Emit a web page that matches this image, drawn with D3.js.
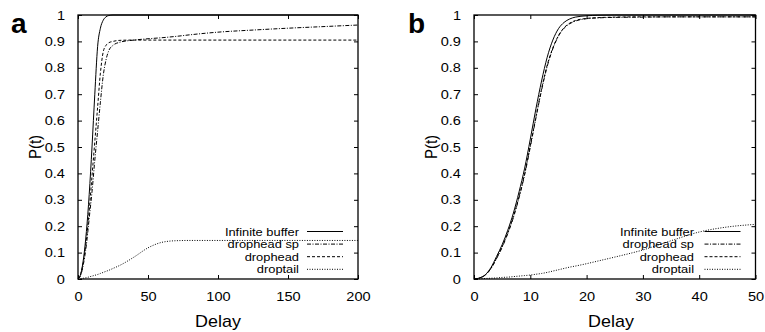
<!DOCTYPE html>
<html>
<head>
<meta charset="utf-8">
<script src="https://cdn.jsdelivr.net/npm/d3@7"></script>
<style>
body { margin: 0; background: #fff; }
text { font-family: "Liberation Sans", Arial, Helvetica, sans-serif; fill: #000; }
.tick text { font-size: 13px; }
.st { transform-box: fill-box; transform: scaleX(1.12); }
.st-c { transform-origin: center; }
.st-r { transform-origin: right center; }
</style>
</head>
<body>
<div id="chart-area"></div>
<script>
// ---- data ----
let seriesNames = ["Infinite buffer", "drophead sp", "drophead", "droptail"];
let yTicks = [0, 0.1, 0.2, 0.3, 0.4, 0.5, 0.6, 0.7, 0.8, 0.9, 1];

// panel a
let aTicks = [0, 50, 100, 150, 200];
let aDelay = [0, 2, 4, 6, 8, 10, 12, 14, 16, 18, 20, 22, 25, 30, 40, 50, 60, 70, 80, 100, 125, 150, 175, 200];
let aInfinite = [0, 0.02, 0.08, 0.18, 0.32, 0.5, 0.7, 0.88, 0.95, 0.98, 0.993, 0.998, 1, 1, 1, 1, 1, 1, 1, 1, 1, 1, 1, 1];
let aDropheadSp = [0, 0.015, 0.06, 0.13, 0.23, 0.33, 0.45, 0.56, 0.67, 0.77, 0.83, 0.865, 0.885, 0.897, 0.905, 0.91, 0.914, 0.919, 0.925, 0.935, 0.943, 0.95, 0.956, 0.962];
let aDrophead = [0, 0.02, 0.07, 0.15, 0.26, 0.39, 0.52, 0.65, 0.78, 0.86, 0.885, 0.895, 0.9, 0.904, 0.905, 0.905, 0.905, 0.905, 0.905, 0.905, 0.905, 0.905, 0.905, 0.905];
let aDroptail = [0, 0.001, 0.003, 0.005, 0.008, 0.011, 0.014, 0.017, 0.021, 0.025, 0.029, 0.033, 0.04, 0.052, 0.083, 0.118, 0.139, 0.145, 0.146, 0.146, 0.146, 0.146, 0.146, 0.146];

// panel b
let bTicks = [0, 10, 20, 30, 40, 50];
let bDelay = [0, 1, 2, 3, 4, 5, 6, 7, 8, 9, 10, 11, 12, 13, 14, 15, 16, 17, 18, 20, 22, 25, 30, 35, 40, 45, 50];
let bInfinite = [0, 0.004, 0.016, 0.043, 0.085, 0.13, 0.185, 0.25, 0.33, 0.42, 0.53, 0.645, 0.75, 0.84, 0.905, 0.948, 0.972, 0.985, 0.992, 0.997, 0.999, 1, 1, 1, 1, 1, 1];
let bDropheadSp = [0, 0.004, 0.015, 0.039, 0.077, 0.12, 0.172, 0.233, 0.308, 0.395, 0.5, 0.61, 0.715, 0.805, 0.872, 0.92, 0.95, 0.967, 0.977, 0.986, 0.989, 0.991, 0.992, 0.993, 0.993, 0.993, 0.993];
let bDrophead = [0, 0.004, 0.015, 0.04, 0.079, 0.123, 0.175, 0.237, 0.312, 0.4, 0.505, 0.615, 0.72, 0.81, 0.875, 0.922, 0.952, 0.969, 0.979, 0.987, 0.99, 0.992, 0.993, 0.993, 0.993, 0.993, 0.993];
let bDroptail = [0, 0.001, 0.002, 0.003, 0.004, 0.006, 0.007, 0.009, 0.011, 0.013, 0.015, 0.018, 0.021, 0.025, 0.03, 0.035, 0.04, 0.045, 0.049, 0.058, 0.068, 0.083, 0.11, 0.145, 0.178, 0.197, 0.207];

// line styles per series
let dashes = [null, "4,1.5,1,1.5", "3,2", "1,1.5"];

let svg = d3.select("#chart-area").append("svg")
    .attr("width", 765)
    .attr("height", 332);

let panels = [
    {letter: "a", left: 78, right: 358, xmax: 200, ticks: aTicks, delay: aDelay,
     series: [aInfinite, aDropheadSp, aDrophead, aDroptail], ylabX: 35, xlabX: 218, legTextX: 299, letterX: 11},
    {letter: "b", left: 474, right: 755.5, xmax: 50, ticks: bTicks, delay: bDelay,
     series: [bInfinite, bDropheadSp, bDrophead, bDroptail], ylabX: 431, xlabX: 611, legTextX: 694, letterX: 408}
];

let plotTop = 15, plotBottom = 279;

panels.forEach(p => {
    let x = d3.scaleLinear().domain([0, p.xmax]).range([p.left, p.right]);
    let y = d3.scaleLinear().domain([0, 1]).range([plotBottom, plotTop]);

    let g = svg.append("g");

    // curves
    let line = d3.line()
        .x((d, i) => x(p.delay[i]))
        .y(d => y(d))
        .curve(d3.curveMonotoneX);

    p.series.forEach((vals, k) => {
        g.append("path")
            .attr("d", line(vals))
            .attr("fill", "none")
            .attr("stroke", "#000")
            .attr("stroke-width", 1)
            .attr("stroke-dasharray", dashes[k]);
    });

    // axes, ticks point inward on all four sides
    let fmt = d => d === 0 ? "0" : d === 1 ? "1" : d3.format(".1f")(d);

    let yAxis = g.append("g")
        .attr("transform", "translate(" + p.left + ",0)")
        .call(d3.axisLeft(y).tickValues(yTicks).tickFormat(fmt).tickSizeInner(-4).tickSizeOuter(0).tickPadding(13));
    let xAxis = g.append("g")
        .attr("transform", "translate(0," + plotBottom + ")")
        .call(d3.axisBottom(x).tickValues(p.ticks).tickFormat(d3.format("d")).tickSizeInner(-4).tickSizeOuter(0).tickPadding(13));
    g.append("g")
        .attr("transform", "translate(" + p.right + ",0)")
        .call(d3.axisRight(y).tickValues(yTicks).tickFormat("").tickSizeInner(-4).tickSizeOuter(0));
    g.append("g")
        .attr("transform", "translate(0," + plotTop + ")")
        .call(d3.axisTop(x).tickValues(p.ticks).tickFormat("").tickSizeInner(-4).tickSizeOuter(0));

    g.selectAll(".domain").remove();
    g.selectAll(".tick line").attr("stroke", "#000").attr("stroke-width", 1);
    yAxis.selectAll("text").attr("class", "st st-r");
    xAxis.selectAll("text").attr("class", "st st-c");

    g.append("rect")
        .attr("x", p.left).attr("y", plotTop)
        .attr("width", p.right - p.left).attr("height", plotBottom - plotTop)
        .attr("fill", "none").attr("stroke", "#000").attr("stroke-width", 1.3);

    // legend
    seriesNames.forEach((name, k) => {
        let ly = 231.5 + k * 12.6;
        g.append("text")
            .attr("class", "st st-r")
            .attr("x", p.legTextX).attr("y", ly)
            .attr("dy", "0.35em")
            .attr("text-anchor", "end")
            .style("font-size", "11.5px")
            .text(name);
        g.append("line")
            .attr("x1", p.right - 51).attr("x2", p.right - 15)
            .attr("y1", ly).attr("y2", ly)
            .attr("stroke", "#000").attr("stroke-width", 1)
            .attr("stroke-dasharray", dashes[k]);
    });

    // axis titles
    g.append("text")
        .attr("class", "st st-c")
        .attr("x", p.xlabX).attr("y", 327)
        .attr("text-anchor", "middle")
        .style("font-size", "16px")
        .text("Delay");
    g.append("text")
        .attr("transform", "translate(" + p.ylabX + "," + 147 + ") rotate(-90) scale(1,1.1)")
        .attr("text-anchor", "middle")
        .attr("dy", "0.35em")
        .style("font-size", "15px")
        .text("P(t)");

    // panel letter
    g.append("text")
        .attr("x", p.letterX).attr("y", 33)
        .style("font-size", "28px")
        .style("font-weight", "bold")
        .text(p.letter);
});
</script>
</body>
</html>
